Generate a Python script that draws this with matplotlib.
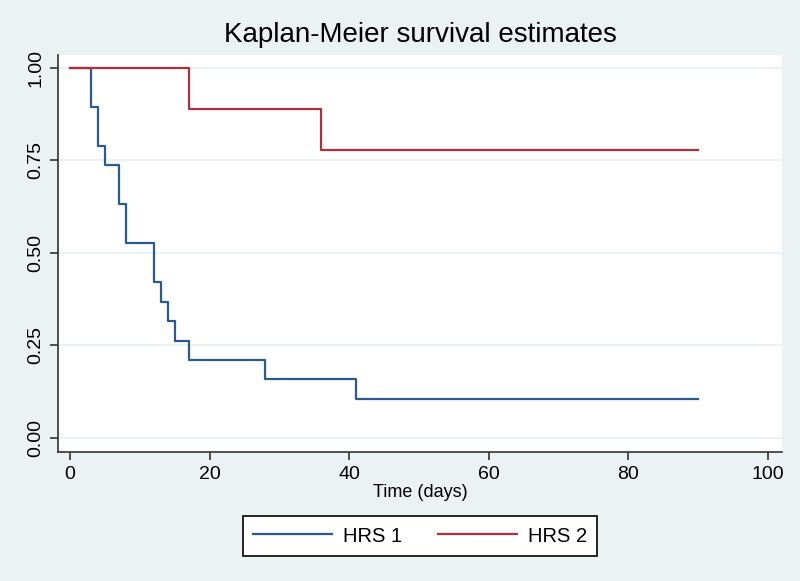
import matplotlib.pyplot as plt

# Kaplan-Meier step data
hrs1_time = [0, 3, 4, 5, 7, 8, 12, 13, 14, 15, 17, 28, 41, 90]
hrs1_surv = [1.0, 0.895, 0.789, 0.737, 0.632, 0.526, 0.421, 0.368,
             0.316, 0.263, 0.211, 0.158, 0.105, 0.105]

hrs2_time = [0, 17, 36, 90]
hrs2_surv = [1.0, 0.889, 0.778, 0.778]

x_ticks = [0, 20, 40, 60, 80, 100]
y_ticks = [0.0, 0.25, 0.5, 0.75, 1.0]
y_tick_labels = ["0.00", "0.25", "0.50", "0.75", "1.00"]

bg = "#EAF2F3"
blue = "#2B5B8C"
red = "#B0303D"

plt.rcParams["font.family"] = ["Liberation Sans", "DejaVu Sans"]

fig = plt.figure(figsize=(8, 5.81), dpi=100, facecolor=bg)
ax = fig.add_axes([58 / 800, 1 - 452 / 581, (782 - 58) / 800, (452 - 55) / 581])
ax.set_facecolor("white")

ax.step(hrs1_time, hrs1_surv, where="post", color=blue, lw=1.6, label="HRS 1")
ax.step(hrs2_time, hrs2_surv, where="post", color=red, lw=1.6, label="HRS 2")

ax.set_xlim(-1.7, 102)
ax.set_ylim(-0.038, 1.035)
ax.set_xticks(x_ticks)
ax.set_yticks(y_ticks)
ax.set_yticklabels(y_tick_labels, rotation=90, va="center")
ax.tick_params(labelsize=14, length=6, width=1.2, color="#333333", pad=4)
ax.grid(axis="y", color=bg, lw=1.5)
ax.set_axisbelow(True)

for side in ["top", "right"]:
    ax.spines[side].set_visible(False)
for side in ["left", "bottom"]:
    ax.spines[side].set_color("#333333")
    ax.spines[side].set_linewidth(1.2)

ax.set_xlabel("Time (days)", fontsize=13, labelpad=1)
fig.text(0.526, 1 - 35 / 581, "Kaplan-Meier survival estimates",
         ha="center", va="center", fontsize=20)

leg = fig.legend(loc="center", bbox_to_anchor=(420 / 800, 1 - 536 / 581),
                 ncol=2, fontsize=14.5, frameon=True, fancybox=False,
                 framealpha=1, handlelength=3.9, columnspacing=1.8,
                 handletextpad=0.55, borderpad=0.5)
leg.get_frame().set_edgecolor("black")
leg.get_frame().set_linewidth(1.2)

fig.savefig("out.png", dpi=100, facecolor=bg)
